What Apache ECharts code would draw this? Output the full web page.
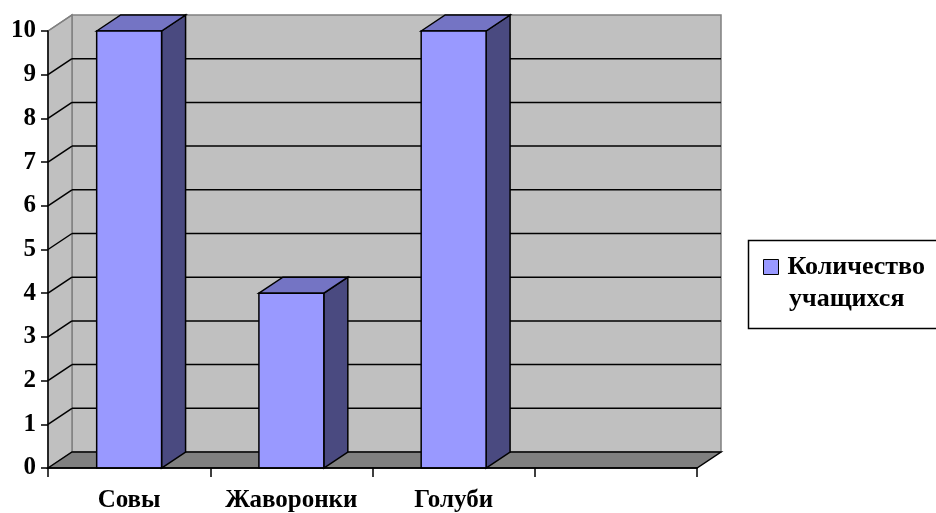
<!DOCTYPE html>
<html>
<head>
<meta charset="utf-8">
<script src="https://cdn.jsdelivr.net/npm/echarts@6/dist/echarts.min.js"></script>
<style>
  html, body { margin: 0; padding: 0; background: #fff; }
  #chart { width: 936px; height: 513px; }
</style>
</head>
<body>
<div id="chart"></div>
<script>
// данные
var categories = ['Совы', 'Жаворонки', 'Голуби', ''];
var values = [10, 4, 10, null];
var yTicks = [0, 1, 2, 3, 4, 5, 6, 7, 8, 9, 10];
var seriesName = 'Количество учащихся';

// смещение глубины (3D)
var DX = 24, DY = -16;
var FONT = 'Liberation Serif';

var chart = echarts.init(document.getElementById('chart'));

function renderWalls(params, api) {
  var cs = params.coordSys;
  var x = cs.x, y = cs.y, w = cs.width, h = cs.height;
  var kids = [];
  // задняя стена
  kids.push({ type: 'rect', shape: { x: x + DX, y: y + DY, width: w, height: h },
    style: { fill: '#c0c0c0', stroke: '#808080', lineWidth: 1.5 } });
  // боковая стена
  kids.push({ type: 'polygon', shape: { points: [[x, y], [x + DX, y + DY], [x + DX, y + h + DY], [x, y + h]] },
    style: { fill: '#c0c0c0', stroke: '#808080', lineWidth: 1.5 } });
  // пол
  kids.push({ type: 'polygon', shape: { points: [[x, y + h], [x + DX, y + h + DY], [x + w + DX, y + h + DY], [x + w, y + h]] },
    style: { fill: '#808080', stroke: '#000', lineWidth: 1.5 } });
  // линии сетки
  for (var i = 1; i < yTicks.length; i++) {
    var p = api.coord([0, yTicks[i]]);
    var yy = p[1];
    var col = i === yTicks.length - 1 ? '#808080' : '#000';
    kids.push({ type: 'line', shape: { x1: x, y1: yy, x2: x + DX, y2: yy + DY },
      style: { stroke: col, lineWidth: 1.5 } });
    if (i < yTicks.length - 1) {
      kids.push({ type: 'line', shape: { x1: x + DX, y1: yy + DY, x2: x + w + DX, y2: yy + DY },
        style: { stroke: '#000', lineWidth: 1.5 } });
    }
  }
  return { type: 'group', children: kids };
}

function renderBar(params, api) {
  var v = api.value(1);
  if (v == null || isNaN(v)) return;
  var top = api.coord([api.value(0), v]);
  var base = api.coord([api.value(0), 0]);
  var bw = api.size([1, 0])[0] * 0.4;
  var l = top[0] - bw / 2, r = top[0] + bw / 2, t = top[1], b = base[1];
  var st = { stroke: '#000', lineWidth: 1.5 };
  return {
    type: 'group',
    children: [
      { type: 'polygon', shape: { points: [[r, t], [r + DX, t + DY], [r + DX, b + DY], [r, b]] },
        style: Object.assign({ fill: '#4a4a80' }, st) },
      { type: 'polygon', shape: { points: [[l, t], [l + DX, t + DY], [r + DX, t + DY], [r, t]] },
        style: Object.assign({ fill: '#7474c4' }, st) },
      { type: 'rect', shape: { x: l, y: t, width: bw, height: b - t },
        style: Object.assign({ fill: '#9999ff' }, st) }
    ]
  };
}

var barData = values.map(function (v, i) { return [i, v]; });

var option = {
  animation: false,
  backgroundColor: '#fff',
  grid: { left: 48, right: 239, top: 31, bottom: 45 },
  xAxis: {
    type: 'category',
    data: categories,
    boundaryGap: true,
    axisLine: { show: true, lineStyle: { color: '#000', width: 1.5 } },
    axisTick: { show: true, interval: 0, length: 9, lineStyle: { color: '#000', width: 1.5 } },
    axisLabel: { interval: 0, hideOverlap: false, margin: 20, color: '#000', fontFamily: FONT, fontWeight: 'bold', fontSize: 25 },
    splitLine: { show: false },
    z: 5
  },
  yAxis: {
    type: 'value',
    min: 0, max: 10, interval: 1,
    axisLine: { show: true, lineStyle: { color: '#000', width: 1.5 } },
    axisTick: { show: true, length: 7, lineStyle: { color: '#000', width: 1.5 } },
    axisLabel: { margin: 12, color: '#000', fontFamily: FONT, fontWeight: 'bold', fontSize: 25 },
    splitLine: { show: false },
    z: 5
  },
  legend: {
    data: [{ name: seriesName, icon: 'rect', itemStyle: { color: '#9999ff', borderColor: '#000', borderWidth: 1 } }],
    left: 758, top: 249,
    itemWidth: 15, itemHeight: 15,
    formatter: function () { return 'Количество'; },
    textStyle: { color: '#000', fontFamily: FONT, fontWeight: 'bold', fontSize: 26, padding: [0, 0, 0, 4] }
  },
  graphic: [
    { type: 'rect', left: 746, top: 238, shape: { width: 200, height: 88 },
      style: { fill: 'none', stroke: '#000', lineWidth: 1.5 }, silent: true },
    { type: 'text', left: 789, top: 286,
      style: { text: 'учащихся', fill: '#000', font: 'bold 26px "Liberation Serif"' } }
  ],
  series: [
    { type: 'custom', name: 'walls', data: [[0, 0]], renderItem: renderWalls, silent: true, z: 1 },
    { type: 'custom', name: seriesName, data: barData, renderItem: renderBar, z: 3,
      itemStyle: { color: '#9999ff' } }
  ]
};

chart.setOption(option);
</script>
</body>
</html>
